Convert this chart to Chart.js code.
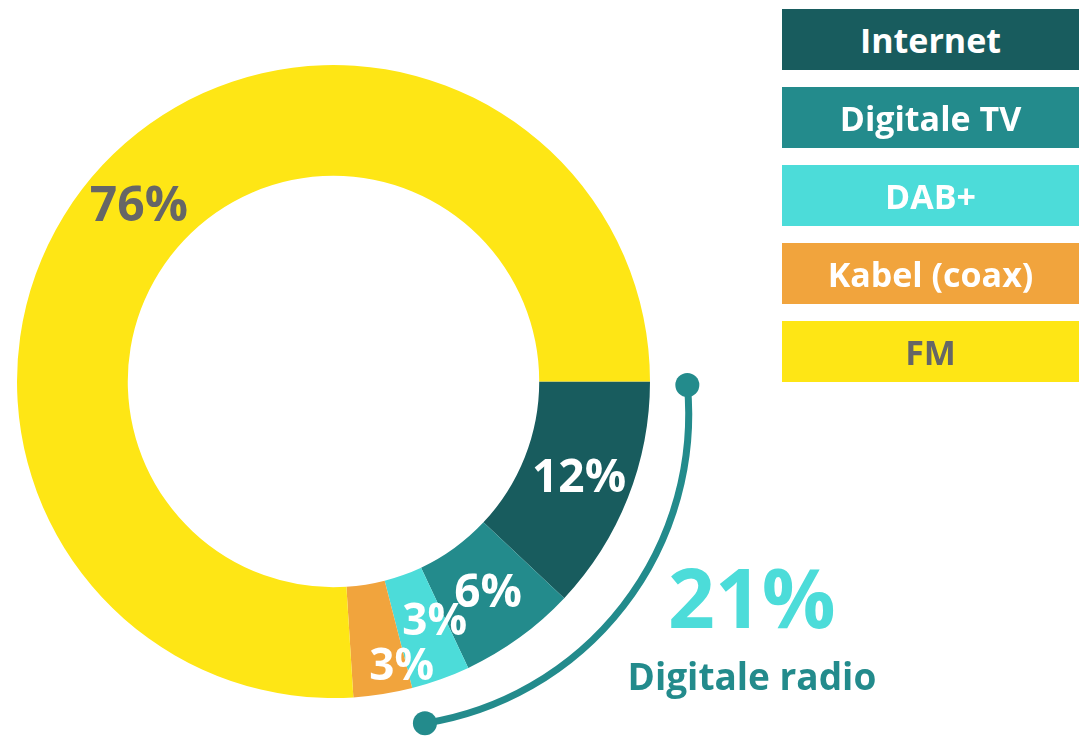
<!DOCTYPE html>
<html>
<head>
<meta charset="utf-8">
<title>Radio ontvangst</title>
<script src="https://cdn.jsdelivr.net/npm/chart.js@4"></script>
<style>
  body { margin: 0; background: #fff; }
  #wrap { position: relative; width: 1089px; height: 743px; overflow: hidden; }
  #chart { position: absolute; left: 0; top: 0; }
  .legend-item {
    position: absolute; left: 782px; width: 297px; height: 61px;
    display: flex; align-items: center; justify-content: center;
    font-family: "Open Sans", sans-serif; font-weight: 700; font-size: 34px; color: #fff;
  }
</style>
</head>
<body>
<div id="wrap">
  <canvas id="chart" width="1089" height="743"></canvas>
  <div id="legend"></div>
</div>
<script>
// data
const categories = ["Internet", "Digitale TV", "DAB+", "Kabel (coax)", "FM"];
const shares = [12, 6, 3, 3, 76];
const digitalRadio = ["Internet", "Digitale TV", "DAB+"];
const digitalLabel = "Digitale radio";

// styles
const colors = ["#185c5e", "#238b8c", "#4cdcd9", "#f1a43d", "#fee615"];
const textColors = ["#ffffff", "#ffffff", "#ffffff", "#ffffff", "#666666"];
const labelSizes = [46, 46, 44, 44, 48];
// small nudges for the slice labels (degrees along the ring, pixels outward)
const labelNudge = [[0, 3], [0, 2], [-3, 0], [-4.4, 33], [-1.4, 0]];
const teal = "#238b8c";
const FONT = "'Open Sans', sans-serif";

// legend boxes
const legend = document.getElementById("legend");
categories.forEach((c, i) => {
    const d = document.createElement("div");
    d.className = "legend-item";
    d.style.top = (9 + i * 78) + "px";
    d.style.background = colors[i];
    d.style.color = textColors[i];
    d.textContent = c;
    legend.appendChild(d);
});

// percentage labels + "digitale radio" bracket
const annotate = {
    id: "annotate",
    afterDatasetsDraw(chart) {
        const ctx = chart.ctx;
        const meta = chart.getDatasetMeta(0);
        ctx.save();
        ctx.textAlign = "center";
        ctx.textBaseline = "middle";
        meta.data.forEach((arc, i) => {
            const p = arc.getProps(["x", "y", "startAngle", "endAngle", "innerRadius", "outerRadius"], true);
            const a = (p.startAngle + p.endAngle) / 2 + labelNudge[i][0] * Math.PI / 180;
            const r = (p.innerRadius + p.outerRadius) / 2 + labelNudge[i][1];
            ctx.font = "700 " + labelSizes[i] + "px " + FONT;
            ctx.fillStyle = textColors[i];
            ctx.fillText(shares[i] + "%", p.x + Math.cos(a) * r, p.y + Math.sin(a) * r);
        });

        // bracket arc over the digital radio slices
        const idx = digitalRadio.map(n => categories.indexOf(n));
        const first = meta.data[Math.min(...idx)].getProps(["x", "y", "startAngle", "outerRadius"], true);
        const last = meta.data[Math.max(...idx)].getProps(["endAngle"], true);
        const R = first.outerRadius;
        const cx = first.x, cy = first.y;
        const rr = R * 1.118;
        const a0 = first.startAngle + 0.01, a1 = last.endAngle - 0.01;
        const A = { x: cx + Math.cos(a0) * rr, y: cy + Math.sin(a0) * rr };
        const B = { x: cx + Math.cos(a1) * rr, y: cy + Math.sin(a1) * rr };
        const Rc = R * 0.988;
        const mx = (A.x + B.x) / 2, my = (A.y + B.y) / 2;
        const dx = B.x - A.x, dy = B.y - A.y;
        const d = Math.hypot(dx, dy);
        const h = Math.sqrt(Math.max(Rc * Rc - d * d / 4, 0));
        let nx = dy / d, ny = -dx / d;
        if ((cx - mx) * nx + (cy - my) * ny < 0) { nx = -nx; ny = -ny; }
        const ox = mx + nx * h, oy = my + ny * h;
        ctx.strokeStyle = teal;
        ctx.fillStyle = teal;
        ctx.lineWidth = 7;
        ctx.beginPath();
        ctx.arc(ox, oy, Rc, Math.atan2(A.y - oy, A.x - ox), Math.atan2(B.y - oy, B.x - ox), false);
        ctx.stroke();
        [A, B].forEach(pt => {
            ctx.beginPath();
            ctx.arc(pt.x, pt.y, 12, 0, Math.PI * 2);
            ctx.fill();
        });

        // total for digital radio
        const total = idx.reduce((s, k) => s + shares[k], 0);
        ctx.textBaseline = "alphabetic";
        ctx.font = "700 82px " + FONT;
        ctx.fillStyle = colors[2];
        ctx.fillText(total + "%", cx + R * 1.322, cy + R * 0.778);
        ctx.font = "700 37px " + FONT;
        ctx.fillStyle = teal;
        ctx.fillText(digitalLabel, cx + R * 1.322, cy + R * 0.974);
        ctx.restore();
    }
};

new Chart(document.getElementById("chart"), {
    type: "doughnut",
    data: {
        labels: categories,
        datasets: [{
            data: shares,
            backgroundColor: colors,
            borderWidth: 0,
            hoverOffset: 0
        }]
    },
    options: {
        responsive: false,
        animation: false,
        rotation: 90,
        cutout: "65%",
        layout: { padding: { left: 17, top: 65, right: 439, bottom: 45 } },
        plugins: {
            legend: { display: false },
            tooltip: { enabled: false }
        }
    },
    plugins: [annotate]
});
</script>
</body>
</html>
